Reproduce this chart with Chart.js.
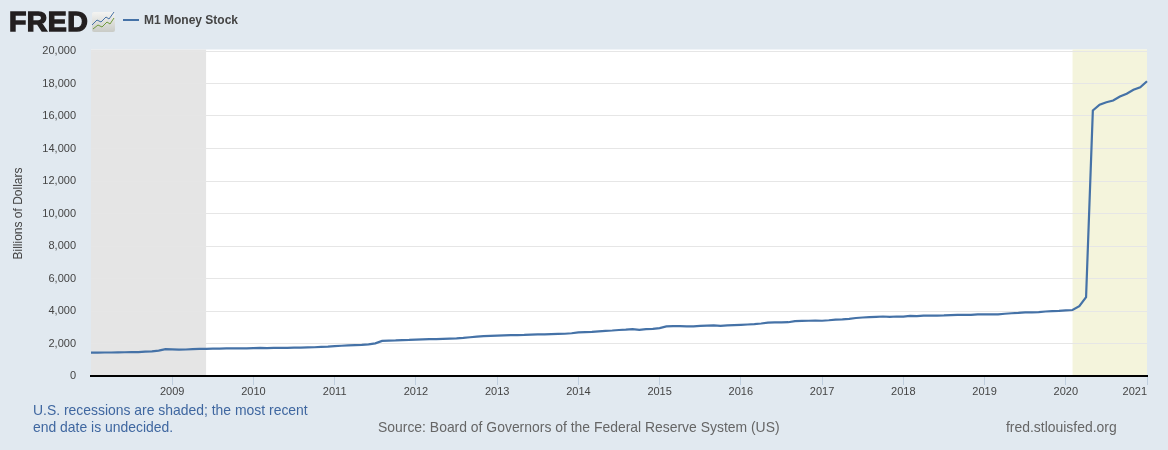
<!DOCTYPE html>
<html lang="en">
<head>
    <meta charset="UTF-8">
    <title>M1 Money Stock</title>
    <script src="https://cdn.jsdelivr.net/npm/chart.js"></script>
    <style>
        html, body { margin: 0; padding: 0; }
        body { position: relative; width: 1168px; height: 450px; overflow: hidden; background: #e1e9f0; font-family: "Liberation Sans", Arial, sans-serif; }
        canvas { position: absolute; left: 0; top: 0; }
        .txt { position: absolute; white-space: nowrap; }
        .logo { left: 9px; top: 5px; font-size: 28.5px; line-height: 32px; font-weight: bold; color: #231f20; -webkit-text-stroke: 1.4px #231f20; letter-spacing: 0.4px; }
        .icon { position: absolute; left: 92px; top: 11px; }
        .legend-line { position: absolute; left: 123px; top: 19px; width: 16px; height: 2px; background: #4572a7; }
        .legend-text { left: 144px; top: 13px; font-size: 12px; line-height: 14px; font-weight: bold; color: #444; }
        .note { left: 33px; top: 402px; font-size: 13.93px; line-height: 17px; color: #3f67a0; }
        .source { left: 378px; top: 419px; font-size: 13.93px; line-height: 17px; color: #666; }
        .site { left: 1006px; top: 419px; font-size: 13.93px; line-height: 17px; color: #666; }
    </style>
</head>
<body>
    <canvas id="m1Chart" width="1168" height="450"></canvas>

    <!-- Header -->
    <div class="txt logo">FRED</div>
    <svg class="icon" width="23" height="21" viewBox="0 0 23 21">
        <defs>
            <linearGradient id="iconBg" x1="0" y1="0" x2="0" y2="1">
                <stop offset="0" stop-color="#f4f4f2"/>
                <stop offset="1" stop-color="#c9cbc6"/>
            </linearGradient>
        </defs>
        <rect width="23" height="20" y="1" rx="2" fill="url(#iconBg)"/>
        <polyline points="0,14 5,9 9,11 14,6 17,8 22,1" fill="none" stroke="#4572a7" stroke-width="1"/>
        <polyline points="1,18 6,14 10,16 15,11 18,13 22,7" fill="none" stroke="#6f9a3c" stroke-width="1"/>
    </svg>
    <div class="legend-line"></div>
    <div class="txt legend-text">M1 Money Stock</div>

    <!-- Footer -->
    <div class="txt note">U.S. recessions are shaded; the most recent<br>end date is undecided.</div>
    <div class="txt source">Source: Board of Governors of the Federal Reserve System (US)</div>
    <div class="txt site">fred.stlouisfed.org</div>

    <script>
        // Years on the axis, one row of monthly values per year (billions of dollars)
        const years = ['2008', '2009', '2010', '2011', '2012', '2013', '2014', '2015', '2016', '2017', '2018', '2019', '2020', '2021'];
        const values2008 = [1440, 1440, 1445, 1445, 1455, 1460, 1465, 1475, 1500, 1520, 1560, 1650];
        const values2009 = [1640, 1625, 1630, 1650, 1665, 1675, 1690, 1690, 1695, 1700, 1705, 1700];
        const values2010 = [1710, 1725, 1720, 1725, 1735, 1730, 1745, 1750, 1760, 1770, 1790, 1810];
        const values2011 = [1840, 1860, 1880, 1900, 1920, 1950, 2010, 2160, 2180, 2190, 2210, 2220];
        const values2012 = [2240, 2250, 2265, 2275, 2290, 2305, 2320, 2345, 2385, 2420, 2450, 2470];
        const values2013 = [2490, 2505, 2520, 2520, 2530, 2550, 2560, 2565, 2580, 2590, 2600, 2630];
        const values2014 = [2680, 2700, 2720, 2750, 2780, 2800, 2830, 2850, 2880, 2840, 2880, 2900];
        const values2015 = [2950, 3050, 3070, 3070, 3060, 3060, 3090, 3100, 3110, 3090, 3110, 3130];
        const values2016 = [3150, 3170, 3190, 3230, 3280, 3300, 3300, 3310, 3380, 3390, 3400, 3410];
        const values2017 = [3400, 3430, 3470, 3490, 3520, 3570, 3600, 3620, 3640, 3660, 3640, 3660];
        const values2018 = [3660, 3700, 3680, 3720, 3720, 3720, 3730, 3750, 3760, 3770, 3760, 3790];
        const values2019 = [3790, 3800, 3790, 3830, 3860, 3880, 3910, 3920, 3930, 3970, 3990, 4010];
        const values2020 = [4040, 4060, 4300, 4850, 16340, 16700, 16850, 16950, 17200, 17370, 17610, 17770];
        const values2021 = [18140];
        const m1Values = [].concat(values2008, values2009, values2010, values2011, values2012, values2013, values2014,
            values2015, values2016, values2017, values2018, values2019, values2020, values2021);

        const months = [];
        years.forEach(year => {
            for (let m = 1; m <= 12 && months.length < m1Values.length; m++) {
                months.push(year + '-' + String(m).padStart(2, '0'));
            }
        });

        const recessionStarts = ['2008-01', '2020-02'];
        const recessionEnds = ['2009-06', '2021-01'];
        const recessionColors = ['#e5e5e5', '#f4f4dc'];

        // White plot area and the recession bands, under the grid
        const plotBackground = {
            id: 'plotBackground',
            beforeDraw(chart) {
                const { ctx, chartArea, scales } = chart;
                const top = chartArea.top - 1.5;
                const height = chartArea.height + 1.5;
                ctx.save();
                ctx.fillStyle = '#ffffff';
                ctx.fillRect(chartArea.left, top, chartArea.width, height);
                recessionStarts.forEach((start, i) => {
                    const x0 = scales.x.getPixelForValue(months.indexOf(start));
                    const x1 = scales.x.getPixelForValue(months.indexOf(recessionEnds[i]));
                    ctx.fillStyle = recessionColors[i];
                    ctx.fillRect(x0, top, x1 - x0, height);
                });
                ctx.restore();
            }
        };

        // The last year label sits inside the plot's right edge
        const lastYearLabel = {
            id: 'lastYearLabel',
            afterDraw(chart) {
                const { ctx, scales } = chart;
                ctx.save();
                ctx.font = '11px "Liberation Sans"';
                ctx.fillStyle = '#444';
                ctx.textAlign = 'right';
                ctx.textBaseline = 'middle';
                ctx.fillText(years[years.length - 1], scales.x.right, 392);
                ctx.restore();
            }
        };

        new Chart(document.getElementById('m1Chart'), {
            type: 'line',
            data: {
                labels: months,
                datasets: [{
                    label: 'M1 Money Stock',
                    data: m1Values,
                    borderColor: '#4572a7',
                    borderWidth: 2.2,
                    pointRadius: 0,
                    tension: 0
                }]
            },
            options: {
                responsive: false,
                animation: false,
                layout: { padding: { top: 51, right: 21, bottom: 0, left: 0 } },
                plugins: {
                    legend: { display: false },
                    tooltip: { enabled: false }
                },
                scales: {
                    x: {
                        offset: false,
                        afterBuildTicks(axis) {
                            axis.ticks = axis.ticks.filter(t => {
                                const label = months[t.value];
                                return label.endsWith('-01') && label !== months[0];
                            });
                        },
                        afterFit(axis) { axis.height = 74; },
                        border: { color: '#000000', width: 2 },
                        grid: { color: '#c0cfdf', drawOnChartArea: false, tickColor: '#c0cfdf', tickWidth: 1, tickLength: 9 },
                        ticks: {
                            autoSkip: false,
                            maxRotation: 0,
                            padding: 0,
                            color: '#444',
                            font: { family: '"Liberation Sans"', size: 11 },
                            callback(value) {
                                const year = months[value].slice(0, 4);
                                return year === years[years.length - 1] ? '' : year;
                            }
                        }
                    },
                    y: {
                        min: 0,
                        max: 20000,
                        afterFit(axis) { axis.width = 91; },
                        border: { display: false },
                        grid: { color: '#e6e6e6', drawTicks: false },
                        title: {
                            display: true,
                            text: 'Billions of Dollars',
                            color: '#444',
                            font: { family: '"Liberation Sans"', size: 12 },
                            padding: { top: 11, bottom: 0 }
                        },
                        ticks: {
                            stepSize: 2000,
                            padding: 15,
                            color: '#444',
                            font: { family: '"Liberation Sans"', size: 11 }
                        }
                    }
                }
            },
            plugins: [plotBackground, lastYearLabel]
        });
    </script>
</body>
</html>
